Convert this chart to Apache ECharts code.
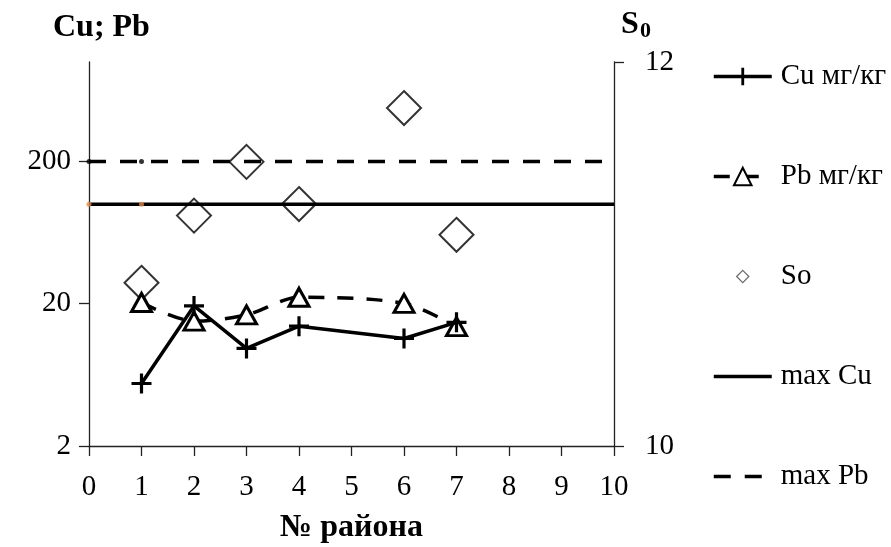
<!DOCTYPE html>
<html>
<head>
<meta charset="utf-8">
<script src="https://cdn.jsdelivr.net/npm/echarts@6/dist/echarts.min.js"></script>
<style>
  html, body { margin: 0; padding: 0; background: #fff; }
  #chart { width: 891px; height: 547px; }
</style>
</head>
<body>
<div id="chart"></div>
<script>
// District numbers and measured values
const districts = [1, 2, 3, 4, 6, 7];
const cuValues = [5.5, 19.3, 9.7, 13.9, 11.4, 14.8];   // Cu, mg/kg
const pbValues = [20.4, 15.1, 16.7, 22.2, 20.1, 13.8];  // Pb, mg/kg
const soValues = [10.85, 11.2, 11.48, 11.26, 11.76, 11.1]; // S0 index

// Limit levels (maximum permissible concentrations)
const maxCu = 100;
const maxPb = 200;
const limitSpan = [0, 10];
const limitMarkX = [0, 1];

// Axis labels
const leftTicks = [2, 20, 200];
const xTicks = [0, 1, 2, 3, 4, 5, 6, 7, 8, 9, 10];

const FONT = "'Liberation Serif', 'Times New Roman', serif";
const FS = 29;
const TITLE_FS = 32;

const pairs = (xs, ys) => xs.map((x, i) => [x, ys[i]]);
const plusPath = 'path://M8.4,0h3.2v8.4h8.4v3.2h-8.4v8.4h-3.2v-8.4h-8.4v-3.2h8.4z';
// small diamond for the legend; the outer move points keep it compact inside the icon box
const legendDiamond = 'path://M10,0L10,0M10,18L10,18M10,4L15,9L10,14L5,9Z';

const chart = echarts.init(document.getElementById('chart'), null, { renderer: 'canvas' });

chart.setOption({
  backgroundColor: '#fff',
  animation: false,
  textStyle: { fontFamily: FONT, color: '#000' },
  grid: { left: 89, right: 277, top: 62, bottom: 101, containLabel: false, outerBoundsMode: 'none' },
  legend: {
    orient: 'vertical',
    left: 712,
    top: 62,
    padding: 0,
    itemWidth: 58,
    itemHeight: 22,
    itemGap: 71,
    lineStyle: { width: 3.5 },
    textStyle: { fontFamily: FONT, fontSize: FS, color: '#000', lineHeight: 29, padding: [0, 0, 0, 4] },
    data: [
      'Cu мг/кг',
      'Pb мг/кг',
      { name: 'So', icon: legendDiamond, itemStyle: { color: 'rgba(255,255,255,0)', borderColor: '#444', borderWidth: 1.2 } },
      { name: 'max Cu', itemStyle: { opacity: 0 } },
      { name: 'max Pb', itemStyle: { opacity: 0 } }
    ]
  },
  graphic: [
    { type: 'text', left: 53, top: 12,
      style: { text: 'Cu; Pb', font: 'bold ' + TITLE_FS + 'px ' + FONT, fill: '#000' } },
    { type: 'text', left: 621, top: 9,
      style: { text: 'S', font: 'bold ' + TITLE_FS + 'px ' + FONT, fill: '#000' } },
    { type: 'text', left: 640, top: 20,
      style: { text: '0', font: 'bold 22px ' + FONT, fill: '#000' } }
  ],
  xAxis: {
    type: 'value',
    min: xTicks[0],
    max: xTicks[xTicks.length - 1],
    interval: 1,
    name: '№ района',
    nameLocation: 'middle',
    nameGap: 66,
    nameTextStyle: { fontFamily: FONT, fontSize: TITLE_FS, fontWeight: 'bold', color: '#000' },
    axisLine: { lineStyle: { color: '#222', width: 1.3 } },
    axisTick: { show: true, length: 10, lineStyle: { color: '#222', width: 1.3 } },
    axisLabel: { fontFamily: FONT, fontSize: FS, color: '#000', margin: 27 },
    splitLine: { show: false }
  },
  yAxis: [
    {
      type: 'log',
      logBase: 10,
      min: 2,
      max: 1000,
      position: 'left',
      axisLine: { show: true, lineStyle: { color: '#222', width: 1.3 } },
      axisTick: { show: true, length: 10, customValues: leftTicks, lineStyle: { color: '#222', width: 1.3 } },
      axisLabel: { fontFamily: FONT, fontSize: FS, color: '#000', margin: 18, customValues: leftTicks },
      splitLine: { show: false },
      minorTick: { show: false }
    },
    {
      type: 'value',
      min: 10,
      max: 12,
      interval: 2,
      position: 'right',
      axisLine: { show: true, lineStyle: { color: '#222', width: 1.3 } },
      axisTick: { show: true, length: 10, lineStyle: { color: '#222', width: 1.3 } },
      axisLabel: { fontFamily: FONT, fontSize: FS, color: '#000', margin: 31 },
      splitLine: { show: false }
    }
  ],
  series: [
    {
      name: 'max Cu',
      type: 'line',
      yAxisIndex: 0,
      data: pairs(limitSpan, limitSpan.map(() => maxCu)),
      symbol: 'none',
      lineStyle: { color: '#000', width: 3.5, type: 'solid' },
      itemStyle: { color: '#000' },
      z: 1
    },
    {
      name: 'max Pb',
      type: 'line',
      yAxisIndex: 0,
      data: pairs(limitSpan, limitSpan.map(() => maxPb)),
      symbol: 'none',
      lineStyle: { color: '#000', width: 3.5, type: [17, 14] },
      itemStyle: { color: '#000' },
      z: 1
    },
    {
      name: 'limit points Cu',
      type: 'scatter',
      yAxisIndex: 0,
      data: pairs(limitMarkX, limitMarkX.map(() => maxCu)),
      symbol: 'circle',
      symbolSize: 5,
      itemStyle: { color: '#e0894a' },
      z: 2
    },
    {
      name: 'limit points Pb',
      type: 'scatter',
      yAxisIndex: 0,
      data: pairs(limitMarkX, limitMarkX.map(() => maxPb)),
      symbol: 'circle',
      symbolSize: 5,
      itemStyle: { color: '#000' },
      z: 2
    },
    {
      name: 'So',
      type: 'scatter',
      yAxisIndex: 1,
      data: pairs(districts, soValues),
      symbol: 'diamond',
      symbolSize: 34,
      itemStyle: { color: 'rgba(255,255,255,0)', borderColor: '#000', borderWidth: 2 },
      z: 3
    },
    {
      name: 'Pb мг/кг',
      type: 'line',
      yAxisIndex: 0,
      data: pairs(districts, pbValues),
      smooth: 0.3,
      symbol: 'triangle',
      symbolSize: [20, 18],
      lineStyle: { color: '#000', width: 3.5, type: [16, 13] },
      itemStyle: { color: '#fff', borderColor: '#000', borderWidth: 3 },
      z: 4
    },
    {
      name: 'Cu мг/кг',
      type: 'line',
      yAxisIndex: 0,
      data: pairs(districts, cuValues),
      symbol: plusPath,
      symbolSize: 20,
      lineStyle: { color: '#000', width: 3.5 },
      itemStyle: { color: '#000' },
      z: 5
    }
  ]
});
</script>
</body>
</html>
